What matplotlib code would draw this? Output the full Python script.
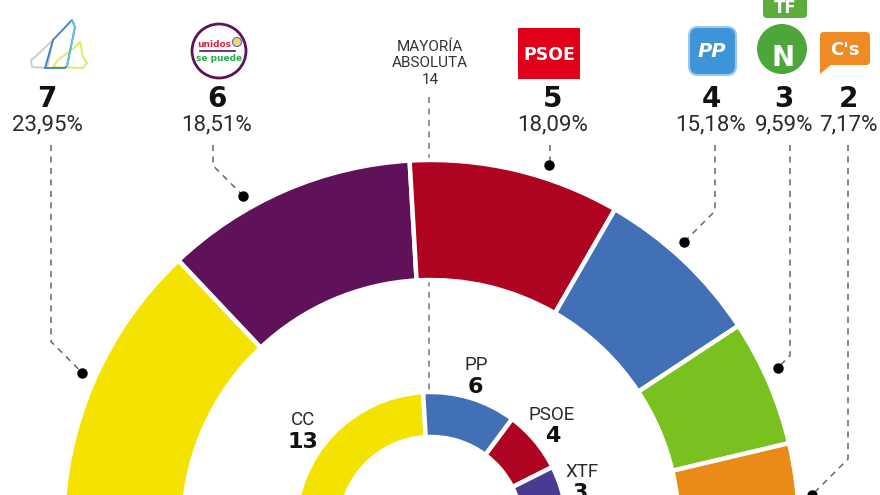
import matplotlib
matplotlib.use("Agg")
import matplotlib.pyplot as plt
from matplotlib.patches import Wedge, Circle, FancyBboxPatch, Polygon, Rectangle
import numpy as np

# ---------------- data ----------------
outer_parties = ["CC", "Unidos se puede", "PSOE", "PP", "XTF-NC", "C's"]
outer_seats = [7, 6, 5, 4, 3, 2]
outer_pct = ["23,95%", "18,51%", "18,09%", "15,18%", "9,59%", "7,17%"]
inner_parties = ["CC", "PP", "PSOE", "XTF"]
inner_seats = [13, 6, 4, 3]
total_seats = 27
majority = 14
majority_label = ["MAYORÍA", "ABSOLUTA", str(majority)]

# ---------------- styles / layout ----------------
outer_colors = ["#F4E200", "#5F1159", "#AE0321", "#4170B6", "#79C11F", "#E98B16"]
inner_colors = ["#F4E200", "#4170B6", "#AE0321", "#4B3A92"]

W, H = 880, 495
def P(y):  # pixel-from-top -> data y
    return H - y

cx, cy = 431, P(528)
R_out, r_out = 368, 248
R_in, r_in = 136, 91

fig = plt.figure(figsize=(8.8, 4.95), dpi=100)
ax = fig.add_axes([0, 0, 1, 1])
ax.set_xlim(0, W)
ax.set_ylim(0, H)
ax.set_aspect("equal")
ax.axis("off")

def ring(seats, colors, R, r):
    cum = 0
    for s, c in zip(seats, colors):
        t2 = 180 - cum * 180 / total_seats
        t1 = 180 - (cum + s) * 180 / total_seats
        ax.add_patch(Wedge((cx, cy), R, t1, t2, width=R - r, facecolor=c,
                           edgecolor="white", linewidth=3.2, zorder=3))
        cum += s

# majority dashed line (behind rings)
ax.plot([cx - 2, cx - 2], [P(97), P(390)], color="#777777", lw=1.1,
        dashes=(4, 3.5), zorder=1)

ring(outer_seats, outer_colors, R_out, r_out)
ring(inner_seats, inner_colors, R_in, r_in)

# majority text
for txt, yb in zip(majority_label, [51, 67, 84]):
    ax.text(cx - 1, P(yb), txt, ha="center", va="baseline", fontsize=11,
            family=["Roboto", "DejaVu Sans"], color="#333333", zorder=5)

# outer labels
label_x = [47, 217, 553, 711, 784, 848]
leader_x = [51, 213, 550, 715, 790, 848]
dot_ang = [156, 119.5, 72, 48.5, 24.8, 4.9]
dot_r = 382
for i in range(len(outer_seats)):
    ax.text(label_x[i], P(107), str(outer_seats[i]), ha="center", va="baseline",
            fontsize=20, fontweight="bold", family=["DejaVu Sans"], color="#111111")
    ax.text(label_x[i], P(130), outer_pct[i], ha="center", va="baseline",
            fontsize=16, fontweight="normal", family=["Roboto", "DejaVu Sans"],
            color="#2a2a2a")
    a = np.deg2rad(dot_ang[i])
    dx = cx + dot_r * np.cos(a)
    dy = cy + dot_r * np.sin(a)
    lx = leader_x[i]
    elbow = dy + abs(dx - lx)
    ax.plot([lx, lx, dx], [P(145), elbow, dy], color="#666666", lw=1.1,
            dashes=(4, 3.5), zorder=2, solid_capstyle="butt")
    ax.plot([dx], [dy], "o", color="black", markersize=6.5, zorder=4)

# inner labels
in_name_pos = [(303, 425), (476, 370), (552, 420), (582, 477)]
in_num_pos = [(303, 448), (475, 393), (553, 442), (580, 499)]
for i in range(len(inner_seats)):
    ax.text(in_name_pos[i][0], P(in_name_pos[i][1]), inner_parties[i], ha="center",
            va="baseline", fontsize=13.5, family=["Roboto", "DejaVu Sans"],
            color="#2a2a2a", zorder=5)
    ax.text(in_num_pos[i][0], P(in_num_pos[i][1]), str(inner_seats[i]), ha="center",
            va="baseline", fontsize=16, fontweight="bold", family=["DejaVu Sans"],
            color="#111111", zorder=5)

# ---------------- logos ----------------
# CC logo (outline islands)
def poly(pts, color):
    ax.add_patch(Polygon([(x, P(y)) for x, y in pts], closed=True, fill=False,
                         edgecolor=color, lw=1.3, zorder=5, joinstyle="round"))
poly([(32, 67), (31, 60), (34, 58), (53, 40), (47, 68)], "#C8C8C8")
poly([(53, 67), (58, 60), (75, 47), (80, 42), (83, 57), (87, 63), (83, 68)], "#E3E85A")
poly([(45, 68), (53, 40), (72, 20), (75, 27), (67, 66), (65, 68)], "#3C7EC8")
ax.plot([72, 75, 67], [P(20), P(27), P(66)], color="#5FC3E0", lw=1.3, zorder=6)

# Unidos se puede
ax.add_patch(Circle((219, P(51)), 27, fill=False, edgecolor="#5F1159", lw=2.0, zorder=5))
ax.text(214, P(47), "unidos", ha="center", va="baseline", fontsize=6.5,
        fontweight="bold", color="#D7263D", zorder=6)
ax.plot([200, 235], [P(51), P(51)], color="#5F1159", lw=1.2, zorder=6)
ax.text(219, P(61), "se puede", ha="center", va="baseline", fontsize=6.5,
        fontweight="bold", color="#2BA84A", zorder=6)
ax.add_patch(Circle((237, P(42)), 4.5, facecolor="#E8E060", edgecolor="#6A5ACD",
                    lw=0.8, zorder=6))

# PSOE
ax.add_patch(Rectangle((518, P(79)), 62, 51, facecolor="#E1001A", edgecolor="none", zorder=5))
ax.text(549, P(60), "PSOE", ha="center", va="baseline", fontsize=12.5,
        fontweight="bold", color="white", family=["DejaVu Sans"], zorder=6)

# PP
ax.add_patch(FancyBboxPatch((689, P(75)), 47, 48, boxstyle="round,pad=0,rounding_size=9",
                            facecolor="#3D95D8", edgecolor="#9CC7EC", lw=1.5, zorder=5))
ax.text(712, P(57), "PP", ha="center", va="baseline", fontsize=14, fontweight="bold",
        style="italic", color="white", zorder=6)

# NC + TF
ax.add_patch(FancyBboxPatch((763, P(18)), 44, 22, boxstyle="round,pad=0,rounding_size=4",
                            facecolor="#5BAE3A", edgecolor="none", zorder=5))
ax.text(785, P(13), "TF", ha="center", va="baseline", fontsize=12, fontweight="bold",
        color="white", zorder=6)
ax.add_patch(Circle((782, P(49)), 25, facecolor="#4CA63A", edgecolor="none", zorder=5))
ax.text(783, P(66), "N", ha="center", va="baseline", fontsize=20, fontweight="bold",
        color="white", zorder=6)

# C's
ax.add_patch(FancyBboxPatch((820, P(65)), 50, 33, boxstyle="round,pad=0,rounding_size=4",
                            facecolor="#F08A24", edgecolor="none", zorder=5))
ax.add_patch(Polygon([(820, P(60)), (820, P(74)), (832, P(64))], closed=True,
                     facecolor="#F08A24", edgecolor="none", zorder=5))
ax.text(845, P(55), "C's", ha="center", va="baseline", fontsize=13, fontweight="bold",
        color="white", zorder=6)

fig.savefig("out.png", dpi=100, facecolor="white")
